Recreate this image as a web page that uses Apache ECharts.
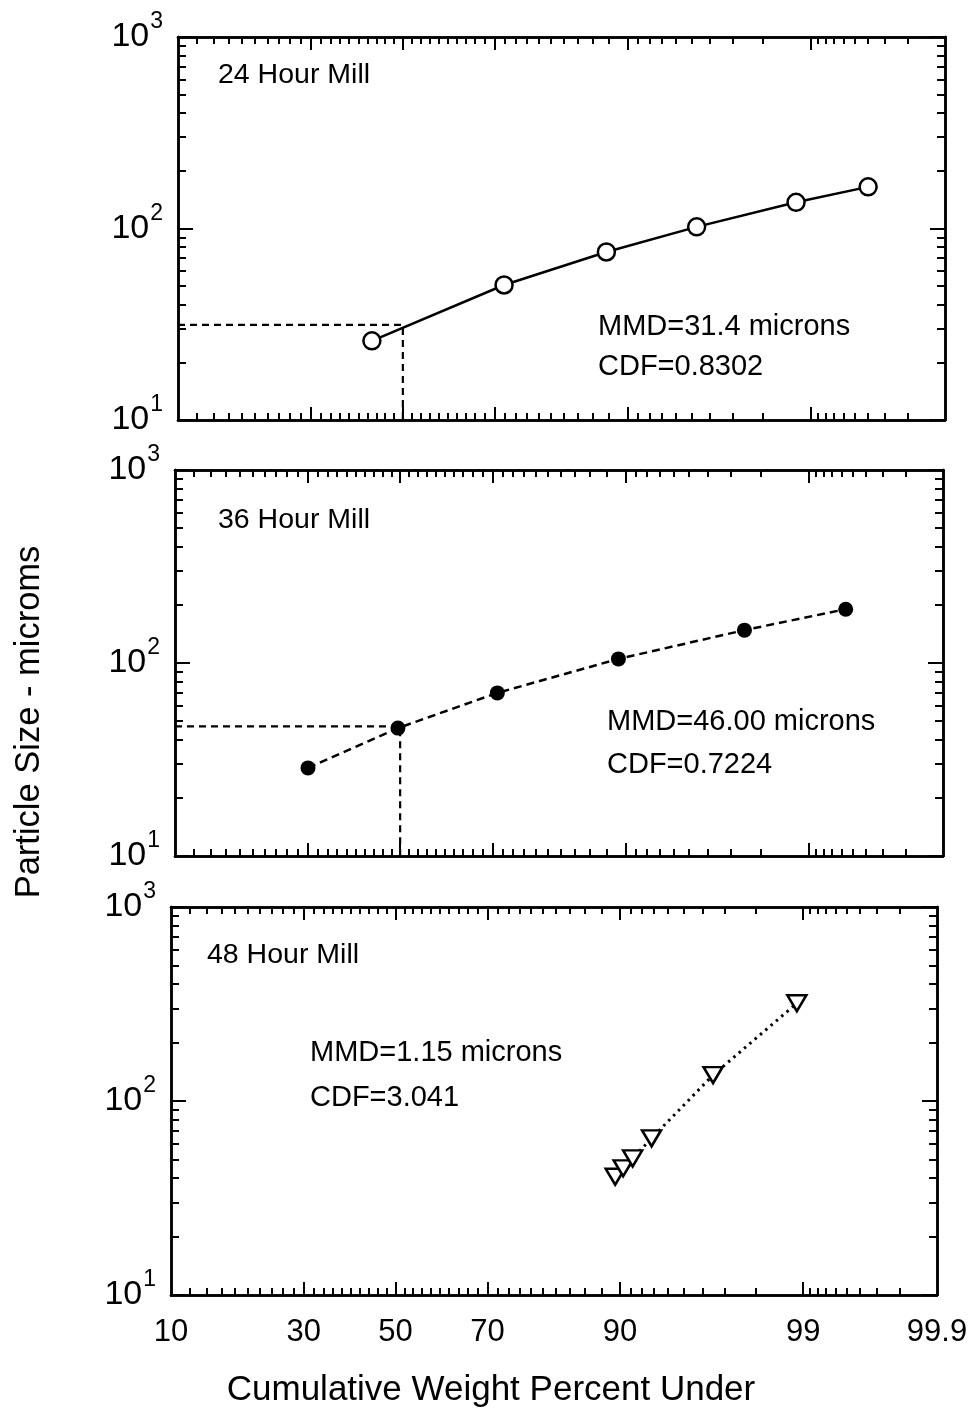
<!DOCTYPE html>
<html lang="en">
<head>
    <meta charset="UTF-8">
    <title>Particle size vs cumulative weight</title>
    <script src="https://cdn.jsdelivr.net/npm/echarts@6/dist/echarts.min.js"></script>
    <style>
        html, body { margin: 0; padding: 0; background: #fff; }
        #main { width: 978px; height: 1411px; }
    </style>
</head>
<body>
<div id="main"></div>
<script>
    // cumulative weight percent under (x) and particle size in microns (y)
    var pct24 = [43.0, 71.8, 87.7, 95.3, 98.75, 99.6];
    var size24 = [25.9, 50.7, 75.4, 102, 137, 165];
    var pct36 = [30, 49.5, 71, 89.3, 97.5, 99.44];
    var size36 = [28.6, 46, 70, 105, 148, 190];
    var pct48 = [89.5, 90.3, 91.2, 92.8, 96.5, 98.9];
    var size48 = [40.7, 45, 50.6, 64.2, 136, 319];

    // MMD guide lines: [percent, size]
    var guide24 = [50, 31.4];
    var guide36 = [50, 47];

    var xTickLabels = [10, 30, 50, 70, 90, 99, 99.9];
    var xMajorTicks = [30, 50, 70, 90, 99];
    var xMinorTicks = [12, 14, 16, 18, 20, 22, 24, 26, 28, 32, 34, 36, 38, 40, 42, 44, 46, 48,
        52, 54, 56, 58, 60, 62, 64, 66, 68, 72, 74, 76, 78, 80, 82, 84, 86, 88,
        91, 92, 93, 94, 95, 96, 97, 98, 99.1, 99.2, 99.3, 99.4, 99.5, 99.6, 99.7, 99.8];
    var yDecades = [10, 100, 1000];
    var yMinorTicks = [20, 30, 40, 50, 60, 70, 80, 90, 200, 300, 400, 500, 600, 700, 800, 900];

    var panelNames = ['24 Hour Mill', '36 Hour Mill', '48 Hour Mill'];
    var mmdTexts = ['MMD=31.4 microns', 'MMD=46.00 microns', 'MMD=1.15 microns'];
    var cdfTexts = ['CDF=0.8302', 'CDF=0.7224', 'CDF=3.041'];

    // inverse normal CDF (probability paper scale)
    function probit(p) {
        var a = [-3.969683028665376e+01, 2.209460984245205e+02, -2.759285104469687e+02, 1.383577518672690e+02, -3.066479806614716e+01, 2.506628277459239e+00];
        var b = [-5.447609879822406e+01, 1.615858368580409e+02, -1.556989798598866e+02, 6.680131188771972e+01, -1.328068155288572e+01];
        var c = [-7.784894002430293e-03, -3.223964580411365e-01, -2.400758277161838e+00, -2.549732539343734e+00, 4.374664141464968e+00, 2.938163982698783e+00];
        var d = [7.784695709041462e-03, 3.224671290700398e-01, 2.445134137142996e+00, 3.754408661907416e+00];
        var q, r;
        if (p < 0.02425) {
            q = Math.sqrt(-2 * Math.log(p));
            return (((((c[0]*q+c[1])*q+c[2])*q+c[3])*q+c[4])*q+c[5]) / ((((d[0]*q+d[1])*q+d[2])*q+d[3])*q+1);
        }
        if (p <= 1 - 0.02425) {
            q = p - 0.5; r = q * q;
            return (((((a[0]*r+a[1])*r+a[2])*r+a[3])*r+a[4])*r+a[5])*q / (((((b[0]*r+b[1])*r+b[2])*r+b[3])*r+b[4])*r+1);
        }
        q = Math.sqrt(-2 * Math.log(1 - p));
        return -(((((c[0]*q+c[1])*q+c[2])*q+c[3])*q+c[4])*q+c[5]) / ((((d[0]*q+d[1])*q+d[2])*q+d[3])*q+1);
    }
    function px(v) { return probit(v / 100); }
    function ly(v) { return Math.log10(v); }

    var XMIN = px(10), XMAX = px(99.9);
    var FONT = '"Liberation Sans", Arial, Helvetica, sans-serif';

    var grids = [
        {left: 178, top: 37, width: 767, height: 383},
        {left: 175, top: 470, width: 768, height: 386},
        {left: 171, top: 907, width: 766, height: 388}
    ];

    var lineBase = {show: true, onZero: false, lineStyle: {color: '#000', width: 2.5}};

    function xAxisOf(gi, pos, major, labels) {
        return {
            type: 'value', gridIndex: gi, position: pos, min: XMIN, max: XMAX,
            axisLine: lineBase,
            splitLine: {show: false},
            axisTick: {
                show: true, inside: true, length: major ? 13 : 7,
                customValues: (major ? xMajorTicks : xMinorTicks).map(px),
                lineStyle: {color: '#000', width: 2}
            },
            axisLabel: labels ? {
                show: true, margin: 22, fontSize: 31, fontFamily: FONT, color: '#000',
                customValues: xTickLabels.map(px), hideOverlap: false,
                formatter: function (v) {
                    for (var i = 0; i < xTickLabels.length; i++) {
                        if (Math.abs(px(xTickLabels[i]) - v) < 1e-6) return String(xTickLabels[i]);
                    }
                    return '';
                }
            } : {show: false}
        };
    }

    function yAxisOf(gi, pos, major, labels) {
        return {
            type: 'value', gridIndex: gi, position: pos, min: 1, max: 3,
            axisLine: lineBase,
            splitLine: {show: false},
            axisTick: {
                show: true, inside: true, length: major ? 15 : 8,
                customValues: (major ? yDecades : yMinorTicks).map(ly),
                lineStyle: {color: '#000', width: 2}
            },
            axisLabel: labels ? {
                show: true, margin: 15, color: '#000', hideOverlap: false,
                fontSize: 34, fontFamily: FONT,
                customValues: yDecades.map(ly),
                formatter: function (v) { return '{b|10}{s|' + Math.round(v) + '}'; },
                rich: {
                    b: {fontSize: 34, fontFamily: FONT, color: '#000'},
                    s: {fontSize: 23, fontFamily: FONT, color: '#000', padding: [0, 0, 30, 1]}
                }
            } : {show: false}
        };
    }

    var xAxes = [], yAxes = [];
    for (var g = 0; g < 3; g++) {
        xAxes.push(xAxisOf(g, 'bottom', true, g === 2));
        xAxes.push(xAxisOf(g, 'bottom', false, false));
        xAxes.push(xAxisOf(g, 'top', true, false));
        xAxes.push(xAxisOf(g, 'top', false, false));
        yAxes.push(yAxisOf(g, 'left', true, true));
        yAxes.push(yAxisOf(g, 'left', false, false));
        yAxes.push(yAxisOf(g, 'right', true, false));
        yAxes.push(yAxisOf(g, 'right', false, false));
    }

    function pairs(pct, size) {
        return pct.map(function (p, i) { return [px(p), ly(size[i])]; });
    }
    function guideData(gd) {
        return [[XMIN, ly(gd[1])], [px(gd[0]), ly(gd[1])], [px(gd[0]), 1]];
    }

    var series = [
        {
            type: 'line', xAxisIndex: 0, yAxisIndex: 0, data: guideData(guide24),
            symbol: 'none', silent: true, z: 1,
            lineStyle: {color: '#000', width: 2.2, type: [7, 5]}
        },
        {
            type: 'line', xAxisIndex: 0, yAxisIndex: 0, data: pairs(pct24, size24),
            symbol: 'circle', symbolSize: 17, z: 3,
            itemStyle: {color: '#fff', borderColor: '#000', borderWidth: 2.5},
            lineStyle: {color: '#000', width: 2.5}
        },
        {
            type: 'line', xAxisIndex: 4, yAxisIndex: 4, data: guideData(guide36),
            symbol: 'none', silent: true, z: 1,
            lineStyle: {color: '#000', width: 2.2, type: [7, 5]}
        },
        {
            type: 'line', xAxisIndex: 4, yAxisIndex: 4, data: pairs(pct36, size36),
            symbol: 'circle', symbolSize: 15, z: 3,
            itemStyle: {color: '#000', borderColor: '#000', borderWidth: 0},
            lineStyle: {color: '#000', width: 2.5, type: [8, 5]}
        },
        {
            type: 'line', xAxisIndex: 8, yAxisIndex: 8, data: pairs(pct48, size48),
            symbol: 'triangle', symbolRotate: 180, symbolSize: [19, 16], z: 3,
            itemStyle: {color: '#fff', borderColor: '#000', borderWidth: 2.5},
            lineStyle: {color: '#000', width: 3, type: [2.5, 4.5]}
        }
    ];

    var textPos = [
        {name: [218, 75], mmd: [598, 327], cdf: [598, 367]},
        {name: [218, 520], mmd: [607, 722], cdf: [607, 765]},
        {name: [207, 955], mmd: [310, 1053], cdf: [310, 1098]}
    ];
    var graphics = [];
    function addText(str, pos, size) {
        graphics.push({
            type: 'text', x: pos[0], y: pos[1], silent: true,
            style: {text: str, font: size + 'px ' + FONT, fill: '#000', align: 'left', verticalAlign: 'middle'}
        });
    }
    for (var k = 0; k < 3; k++) {
        addText(panelNames[k], textPos[k].name, 28.5);
        addText(mmdTexts[k], textPos[k].mmd, 29);
        addText(cdfTexts[k], textPos[k].cdf, 29);
    }
    graphics.push({
        type: 'text', x: 491, y: 1390, silent: true,
        style: {text: 'Cumulative Weight Percent Under', font: '35px ' + FONT, fill: '#000', align: 'center', verticalAlign: 'middle'}
    });
    graphics.push({
        type: 'text', x: 29, y: 722, rotation: Math.PI / 2, silent: true,
        style: {text: 'Particle Size - microms', font: '34.5px ' + FONT, fill: '#000', align: 'center', verticalAlign: 'middle'}
    });

    var chart = echarts.init(document.getElementById('main'));
    chart.setOption({
        animation: false,
        backgroundColor: '#fff',
        grid: grids.map(function (gr) {
            return {left: gr.left, top: gr.top, width: gr.width, height: gr.height, containLabel: false, outerBoundsMode: 'none'};
        }),
        xAxis: xAxes,
        yAxis: yAxes,
        series: series,
        graphic: graphics
    });
</script>
</body>
</html>
